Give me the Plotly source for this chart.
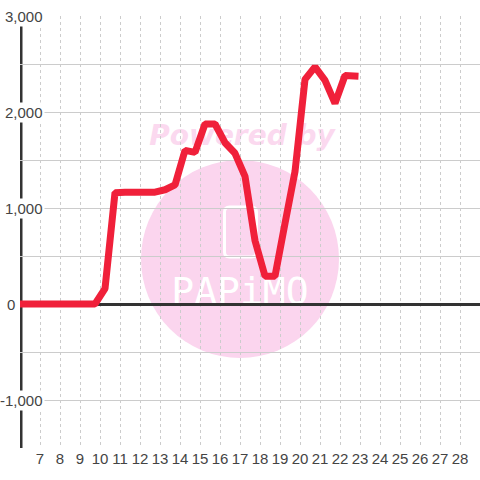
import plotly.graph_objects as go

days = [6, 9.75, 10.25, 10.75, 11.25, 11.75, 12.25, 12.75, 13.25, 13.75, 14.25, 14.75, 15.25, 15.75,
        16.25, 16.75, 17.25, 17.75, 18.25, 18.75, 19.25, 19.75, 20.25, 20.75, 21.25, 21.75, 22.25, 22.75]
values = [0, 0, 160, 1160, 1165, 1165, 1165, 1165, 1190, 1240, 1600, 1580, 1875, 1875,
          1680, 1570, 1330, 660, 290, 290, 840, 1380, 2340, 2470, 2330, 2090, 2380, 2375]
y_ticks = [-1000, 0, 1000, 2000, 3000]
y_labels = ["-1,000", "0", "1,000", "2,000", "3,000"]
x_ticks = list(range(7, 29))
RED = "#F0203A"
PINK = "#FBD5EE"
TEXT = "#444444"
W, H = 480, 480
L, R, T, B = 20, 0, 16, 32

def px(v):
    return (v - L) / (W - L - R)

def py(v):
    return (H - B - v) / (H - T - B)

def rounded(x0, y0, x1, y1, r):
    return (f"M {px(x0+r)} {py(y0)} L {px(x1-r)} {py(y0)} Q {px(x1)} {py(y0)} {px(x1)} {py(y0+r)} "
            f"L {px(x1)} {py(y1-r)} Q {px(x1)} {py(y1)} {px(x1-r)} {py(y1)} "
            f"L {px(x0+r)} {py(y1)} Q {px(x0)} {py(y1)} {px(x0)} {py(y1-r)} "
            f"L {px(x0)} {py(y0+r)} Q {px(x0)} {py(y0)} {px(x0+r)} {py(y0)} Z")

fig = go.Figure(go.Scatter(
    x=days, y=values, mode="lines", cliponaxis=False,
    line=dict(color=RED, width=7), hoverinfo="skip", showlegend=False,
))

shapes = [
    dict(type="circle", xref="paper", yref="paper", layer="below",
         x0=px(141), x1=px(339), y0=py(358), y1=py(160),
         fillcolor=PINK, line=dict(width=0)),
    dict(type="path", xref="paper", yref="paper", layer="below",
         path=rounded(224.5, 207, 256.5, 257, 5),
         fillcolor="rgba(0,0,0,0)", line=dict(color="white", width=3)),
    dict(type="rect", xref="paper", yref="paper", layer="below",
         x0=px(140), x1=px(344), y0=py(153), y1=py(113),
         fillcolor="rgba(0,0,0,0)", line=dict(width=0),
         label=dict(text="<b><i>Powered by</i></b>", textposition="middle center",
                    font=dict(family="DejaVu Sans", size=28, color="#FBD9EF"))),
    dict(type="rect", xref="paper", yref="paper", layer="below",
         x0=px(160), x1=px(320), y0=py(310), y1=py(266),
         fillcolor="rgba(0,0,0,0)", line=dict(width=0),
         label=dict(text="PAPiMO", textposition="middle center",
                    font=dict(family="DejaVu Sans Mono", size=38, color="white"))),
    dict(type="line", xref="x", yref="y", layer="below",
         x0=6.05, x1=6.05, y0=-1500, y1=3000, line=dict(color="#333333", width=3)),
]

annotations = [
    dict(xref="paper", yref="y", x=px(17 if t == "0" else 45), y=v, text=t, showarrow=False,
         xanchor="right", yanchor="middle", bgcolor="white" if t != "0" else "rgba(0,0,0,0)",
         borderpad=1, font=dict(family="Liberation Sans", size=15, color=TEXT))
    for v, t in zip(y_ticks, y_labels)
]

fig.update_layout(
    width=W, height=H, autosize=False,
    margin=dict(l=L, r=R, t=T, b=B, pad=0),
    paper_bgcolor="white", plot_bgcolor="rgba(0,0,0,0)",
    shapes=shapes, annotations=annotations,
    xaxis=dict(range=[6, 29], tickmode="array", tickvals=x_ticks, ticktext=[str(d) for d in x_ticks],
               showgrid=True, gridcolor="#cccccc", gridwidth=1, griddash="3px,3px", zeroline=False,
               showline=False, ticks="", ticklen=0,
               tickfont=dict(family="Liberation Sans", size=15, color=TEXT)),
    yaxis=dict(range=[-1500, 3000], tickmode="linear", tick0=-1500, dtick=500, showticklabels=False,
               showgrid=True, gridcolor="#cccccc", gridwidth=1, zeroline=True, zerolinecolor="#333333",
               zerolinewidth=3, showline=False, ticks=""),
)

post = """
document.documentElement.style.margin='0';
document.body.style.margin='0';
document.querySelectorAll('.scatterlayer .js-line').forEach(function(p){
  p.style.strokeLinejoin='bevel'; p.style.strokeLinecap='square';
});
"""
fig.write_html("out.html", post_script=post, config=dict(displayModeBar=False))
